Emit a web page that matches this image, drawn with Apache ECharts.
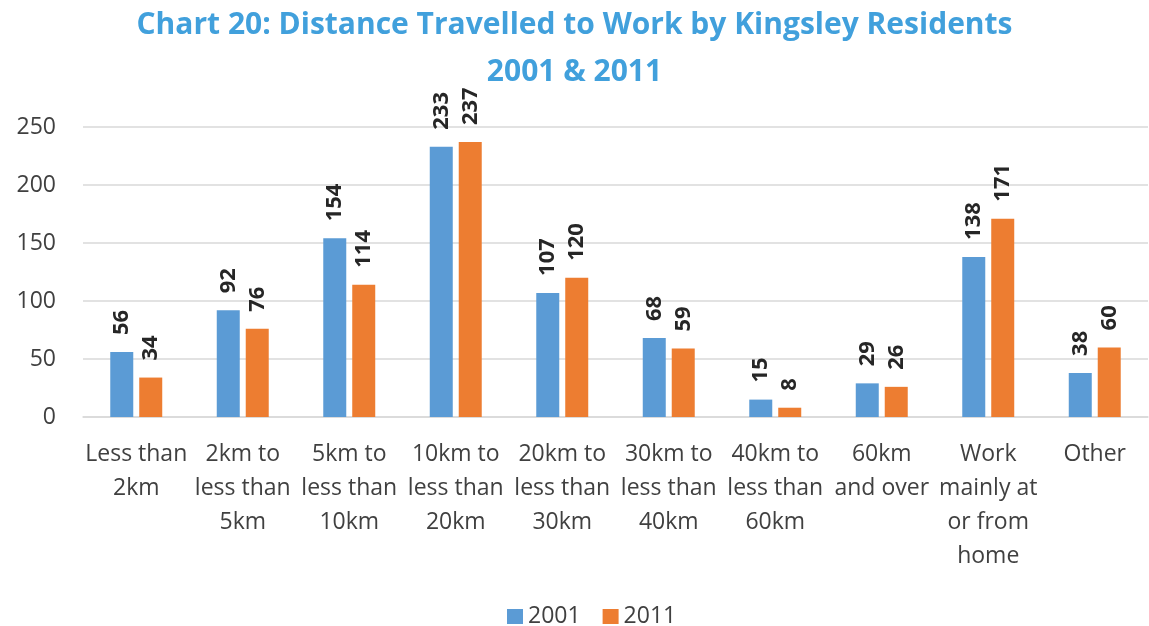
<!DOCTYPE html>
<html>
<head>
<meta charset="utf-8">
<script src="https://cdn.jsdelivr.net/npm/echarts@6/dist/echarts.min.js"></script>
<style>
  html, body { margin: 0; padding: 0; background: #fff; }
  #chart { width: 1149px; height: 626px; }
</style>
</head>
<body>
<div id="chart"></div>
<script>
// Distance bands travelled to work
const categories = [
  'Less than\n2km',
  '2km to\nless than\n5km',
  '5km to\nless than\n10km',
  '10km to\nless than\n20km',
  '20km to\nless than\n30km',
  '30km to\nless than\n40km',
  '40km to\nless than\n60km',
  '60km\nand over',
  'Work\nmainly at\nor from\nhome',
  'Other'
];
// Residents per band, by census year
const values2001 = [56, 92, 154, 233, 107, 68, 15, 29, 138, 38];
const values2011 = [34, 76, 114, 237, 120, 59, 8, 26, 171, 60];
const seriesNames = ['2001', '2011'];
const yTicks = { min: 0, max: 250, interval: 50 };

const FONT = 'Open Sans';
const chart = echarts.init(document.getElementById('chart'));

const barLabel = {
  show: true,
  position: 'top',
  rotate: 90,
  align: 'left',
  verticalAlign: 'middle',
  distance: 17,
  fontFamily: FONT,
  fontWeight: 'bold',
  fontSize: 22,
  color: '#262626'
};

chart.setOption({
  animation: false,
  title: {
    text: 'Chart 20: Distance Travelled to Work by Kingsley Residents\n2001 & 2011',
    left: 'center',
    top: 0,
    padding: [2, 5],
    textStyle: {
      fontFamily: FONT,
      fontWeight: 'bold',
      fontSize: 30,
      color: '#41A0DC',
      lineHeight: 47
    }
  },
  legend: {
    data: seriesNames,
    left: 507,
    top: 605,
    padding: 0,
    itemWidth: 16,
    itemHeight: 15,
    itemGap: 22,
    icon: 'rect',
    textStyle: { fontFamily: FONT, fontSize: 23, color: '#404040', padding: [0, 0, 0, 0] }
  },
  grid: { left: 83, right: 1, top: 127, bottom: 209, containLabel: false },
  xAxis: {
    type: 'category',
    data: categories,
    axisTick: { show: false },
    axisLine: { lineStyle: { color: '#d9d9d9', width: 1.5 } },
    axisLabel: {
      interval: 0,
      margin: 20,
      fontFamily: FONT,
      fontSize: 23,
      color: '#404040',
      lineHeight: 34
    }
  },
  yAxis: {
    type: 'value',
    min: yTicks.min,
    max: yTicks.max,
    interval: yTicks.interval,
    axisLine: { show: false },
    axisTick: { show: false },
    splitLine: { lineStyle: { color: '#d9d9d9', width: 1.5 } },
    axisLabel: {
      margin: 27,
      fontFamily: FONT,
      fontSize: 23,
      color: '#404040'
    }
  },
  series: [
    {
      name: seriesNames[0],
      type: 'bar',
      data: values2001,
      barWidth: 23,
      barGap: '26%',
      itemStyle: { color: '#5B9BD5' },
      label: barLabel
    },
    {
      name: seriesNames[1],
      type: 'bar',
      data: values2011,
      barWidth: 23,
      itemStyle: { color: '#ED7D31' },
      label: barLabel
    }
  ]
});
</script>
</body>
</html>
